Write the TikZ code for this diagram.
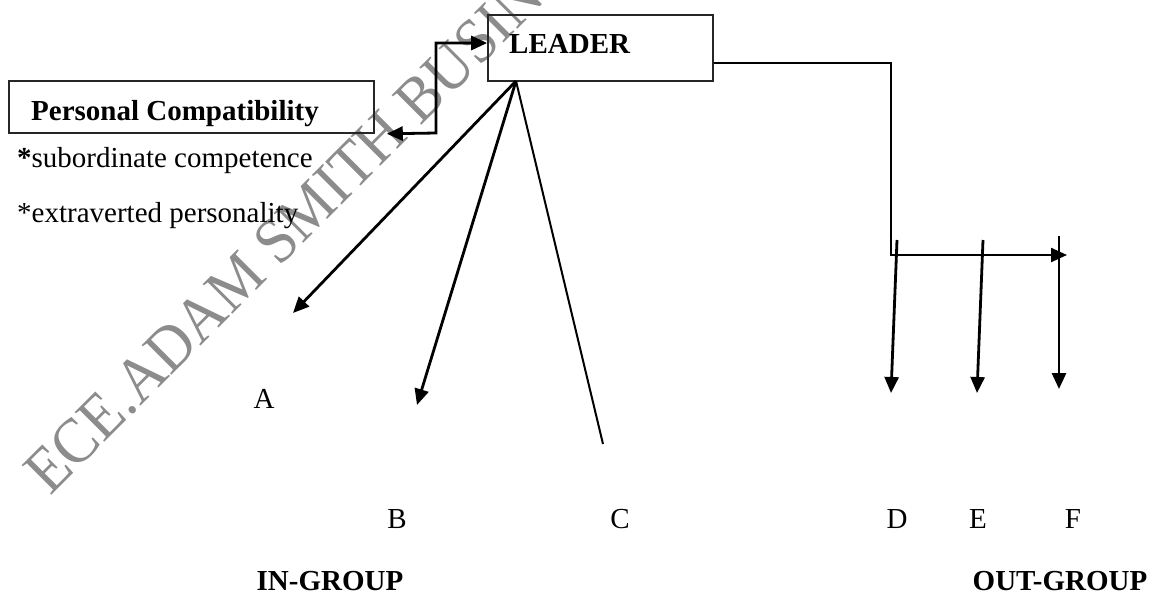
\documentclass[tikz,border=0pt]{standalone}
\usepackage{fontspec}
\setmainfont{Liberation Serif}
\usetikzlibrary{arrows.meta,calc}
\begin{document}
\begin{tikzpicture}[x=1pt,y=-1pt,
  box/.style={draw=black!85, line width=1.6pt, inner sep=0pt},
  lbl/.style={font=\fontsize{29}{34}\selectfont, inner sep=0pt, anchor=base},
  blbl/.style={font=\fontsize{29}{34}\selectfont\bfseries, inner sep=0pt, anchor=base},
  tipA/.style={-{Triangle[length=16pt,width=14pt]}},
  arr/.style={line width=2.8pt, tipA},
  dbl/.style={line width=2.8pt, {Triangle[length=16pt,width=14pt]}-{Triangle[length=16pt,width=14pt]}},
  cline/.style={line width=2pt},
  wm/.style={font=\fontsize{64}{64}\selectfont, text=black!45, inner sep=0pt}]
\useasboundingbox (0,0) rectangle (1153,592);
\clip (0,0) rectangle (1153,592);
% watermark
\node[wm, rotate=45, anchor=base west] (wmk) at (50,497) {\scalebox{0.93}[1]{ECE.ADAM SMITH BUSINESS SCHOOL}};
% boxes
\node[box, minimum width=225pt, minimum height=66pt] (leader) at (600.5,48) {};
\node[blbl, anchor=base west] (leadertxt) at (509,53) {LEADER};
\node[box, minimum width=365pt, minimum height=52pt] (pc) at (191.5,107) {};
\node[blbl, anchor=base west] (pctxt) at (31,120) {Personal Compatibility};
\node[lbl, anchor=base west] (sub) at (17,167) {\textbf{*}subordinate competence};
\node[lbl, anchor=base west] (ext) at (17,222) {*extraverted personality};
% labels
\node[lbl] (A) at (264,408) {A};
\node[lbl] (B) at (397,528) {B};
\node[lbl] (C) at (620,528) {C};
\node[lbl] (D) at (897,528) {D};
\node[lbl] (E) at (978,528) {E};
\node[lbl] (F) at (1073,528) {F};
\node[blbl] (ing) at (330,590) {IN-GROUP};
\node[blbl] (outg) at (1060,590) {OUT-GROUP};
% coordinates
\coordinate (lb) at (516,81);
\coordinate (kink) at (436,133);
\coordinate (tipa) at (293,313);
\coordinate (tipb) at (417,405);
\coordinate (endc) at (603,444);
\coordinate (turn) at (891,255);
\coordinate (hend) at (1067,255);
\coordinate (d1) at (897,240);
\coordinate (d2) at (891,393);
\coordinate (e1) at (983,240);
\coordinate (e2) at (977,393);
\coordinate (f1) at (1059,236);
\coordinate (f2) at (1059,389);
% connectors
\draw[dbl] ([xshift=12pt]pc.south east) -- (kink) |- ([yshift=5pt]leader.west);
\draw[arr] (lb) -- (tipa);
\draw[arr] (lb) -- (tipb);
\draw[cline] (lb) -- (endc);
\draw[arr, line width=2.4pt] ([yshift=-15pt]leader.east) -| (turn) -- (hend);
\draw[arr] (d1) -- (d2);
\draw[arr] (e1) -- (e2);
\draw[arr] (f1) -- (f2);
\end{tikzpicture}
\end{document}
